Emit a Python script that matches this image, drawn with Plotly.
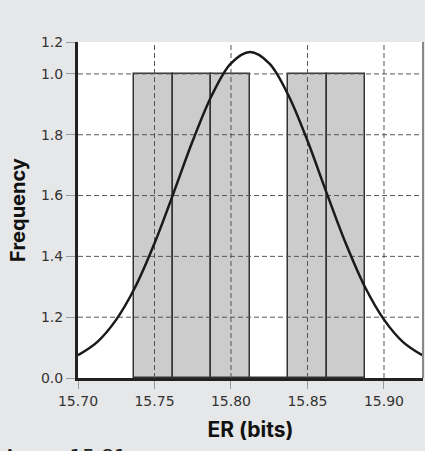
import plotly.graph_objects as go

# Histogram bins
bin_start = 15.7366
bin_width = 0.0252
counts = [1, 1, 1, 0, 1, 1]

# Fitted normal curve
curve_x = [15.700, 15.7125, 15.725, 15.7375, 15.750, 15.7625, 15.775, 15.7875, 15.800,
           15.8125, 15.825, 15.8375, 15.850, 15.8625, 15.875, 15.8875, 15.900, 15.9125, 15.925]
curve_y = [0.075, 0.118, 0.192, 0.300, 0.443, 0.609, 0.780, 0.930, 1.035,
           1.072, 1.035, 0.930, 0.780, 0.609, 0.443, 0.300, 0.192, 0.118, 0.075]

x_tickvals = [15.70, 15.75, 15.80, 15.85, 15.90]
x_ticktext = ["15.70", "15.75", "15.80", "15.85", "15.90"]
y_tickvals = [0.0, 0.2, 0.4, 0.6, 0.8, 1.0, 1.105]
y_ticktext = ["0.0", "1.2", "1.4", "1.6", "1.8", "1.0", "1.2"]

mean_label = "Avg = 15.81"

x_range = [15.70, 15.9255]
y_range = [0.0, 1.105]

centers = [bin_start + bin_width * (i + 0.5) for i in range(len(counts))]

fig = go.Figure()
fig.add_trace(go.Bar(
    x=centers, y=counts, width=bin_width,
    marker=dict(color="#cccccc", line=dict(color="#333333", width=1.5)),
    hoverinfo="skip", showlegend=False,
))

grid_style = dict(color="#555555", width=1, dash="5px,3px")
for xv in x_tickvals[1:]:
    fig.add_trace(go.Scatter(x=[xv, xv], y=[y_range[0], y_range[1]], mode="lines",
                             line=grid_style, hoverinfo="skip", showlegend=False))
for yv in y_tickvals[1:-1]:
    fig.add_trace(go.Scatter(x=[x_range[0], x_range[1]], y=[yv, yv], mode="lines",
                             line=grid_style, hoverinfo="skip", showlegend=False))

fig.add_trace(go.Scatter(
    x=curve_x, y=curve_y, mode="lines", line=dict(color="#1a1a1a", width=2.5, shape="spline"),
    hoverinfo="skip", showlegend=False,
))

tick_font = dict(family="DejaVu Sans", size=14, color="#333333")

fig.update_layout(
    width=425, height=451,
    margin=dict(l=78, r=2, t=42, b=73),
    paper_bgcolor="#e6e7e8",
    plot_bgcolor="#ffffff",
    font=dict(family="Inter", size=14, color="#333333"),
    bargap=0,
    xaxis=dict(
        range=x_range, tickvals=x_tickvals, ticktext=x_ticktext, tickfont=tick_font,
        showgrid=False, zeroline=False, layer="above traces",
        showline=True, linecolor="#222222", linewidth=3,
        ticks="outside", ticklen=8, tickcolor="#9a9a9a", tickwidth=1,
        title=dict(text="<b>ER (bits)</b>", font=dict(family="Inter", size=21, color="#111111"), standoff=15),
    ),
    yaxis=dict(
        range=y_range, tickvals=y_tickvals, ticktext=y_ticktext, tickfont=tick_font,
        showgrid=False, zeroline=False, layer="above traces",
        showline=True, linecolor="#222222", linewidth=3,
        ticks="outside", ticklen=9, tickcolor="#9a9a9a", tickwidth=1,
        title=dict(text="<b>Frequency</b>", font=dict(family="Inter", size=20, color="#111111"), standoff=10),
    ),
    shapes=[
        dict(type="line", xref="paper", yref="paper", x0=1, x1=1, y0=0, y1=1,
             line=dict(color="#888888", width=2)),
        dict(type="line", xref="x", yref="y", xsizemode="pixel", xanchor=x_range[0],
             x0=-10, x1=0, y0=0, y1=0, line=dict(color="#222222", width=3)),
        dict(type="line", xref="x", yref="y", ysizemode="pixel", yanchor=0,
             y0=-10, y1=0, x0=x_range[0], x1=x_range[0], line=dict(color="#222222", width=3)),
    ],
    annotations=[
        dict(text=mean_label, xref="paper", yref="paper", x=-0.222, y=-0.233,
             xanchor="left", yanchor="middle", showarrow=False,
             font=dict(family="DejaVu Sans", size=20, color="#222222")),
    ],
)

fig.write_html("out.html", config={"displayModeBar": False},
               post_script="document.body.style.margin='0';document.body.style.padding='0';")
